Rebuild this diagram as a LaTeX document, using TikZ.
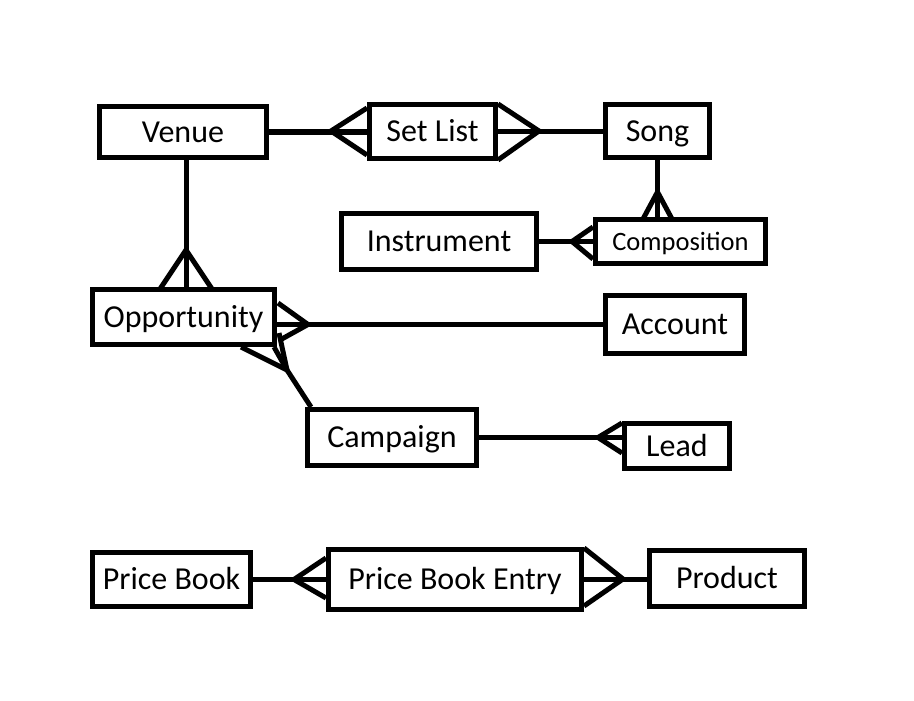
\documentclass[tikz,border=0pt]{standalone}
\usepackage{fontspec}
\setmainfont{Carlito}
\begin{document}
\begin{tikzpicture}[x=1pt,y=-1pt,
  ent/.style={draw, line width=5pt, inner sep=0pt, fill=white, text height=20.6pt, text depth=0pt, font=\fontsize{32}{38}\selectfont},
  sment/.style={ent, text height=17pt, font=\fontsize{26.5}{31}\selectfont},
  ln/.style={line width=5pt},
  crow/.style={line width=5pt, line join=miter}]
\useasboundingbox (0,0) rectangle (914,701);
\fill[white] (0,0) rectangle (914,701);

% entities
\node[ent, minimum width=167, minimum height=51] (venue) at (183,132) {Venue};
\node[ent, minimum width=126, minimum height=54] (setlist) at (432.5,131.5) {Set List};
\node[ent, minimum width=104, minimum height=53] (song) at (657.5,131) {Song};
\node[ent, minimum width=195, minimum height=56] (instrument) at (439,241.5) {Instrument};
\node[sment, minimum width=170, minimum height=44] (composition) at (680.5,241.5) {Composition};
\node[ent, minimum width=182, minimum height=55] (opportunity) at (183.5,317) {Opportunity};
\node[ent, minimum width=139, minimum height=58] (account) at (675,324.5) {Account};
\node[ent, minimum width=169, minimum height=56] (campaign) at (392,437.5) {Campaign};
\node[ent, minimum width=105, minimum height=45] (lead) at (677,446) {Lead};
\node[ent, minimum width=158, minimum height=54] (pricebook) at (171.5,579.5) {Price Book};
\node[ent, minimum width=253, minimum height=60] (pbe) at (455,579.5) {Price Book Entry};
\node[ent, minimum width=155, minimum height=56] (product) at (727,578.5) {Product};

% connectors
\draw[ln] (venue.east) -- (venue.east -| setlist.west);
\draw[crow] (367,108) -- (331,131) -- (367,155);

\draw[ln] (setlist.east) -- (setlist.east -| song.west);
\draw[crow] (498,104) -- (539,131) -- (498,160);

\draw[ln] (song.south) -- (song.south |- composition.north);
\draw[crow] (643,219) -- (657.5,192) -- (672,219);

\draw[ln] (instrument.east) -- (instrument.east -| composition.west);
\draw[crow] (593,227) -- (572,241.5) -- (593,259);

\draw[ln] ([xshift=3pt]venue.south) -- ([xshift=3pt]venue.south |- opportunity.north);
\draw[crow] (160,289) -- (186,250) -- (212,289);

\draw[ln] (account.west -| opportunity.east) -- (account.west);
\draw[crow] (278,303) -- (308,324.5) -- (280,340);

\coordinate (oc) at (287,370);
\draw[ln] ([xshift=6pt]campaign.north west) -- (oc);
\draw[crow] (241,347) -- (oc) -- (279,333);
\draw[crow] (oc) -- (274,347);

\draw[ln] (campaign.east) -- (campaign.east -| lead.west);
\draw[crow] (622,423) -- (598,437.5) -- (622,453);

\draw[ln] (pricebook.east) -- (pricebook.east -| pbe.west);
\draw[crow] (326,558) -- (294,579.5) -- (326,598);

\draw[ln] (pbe.east) -- (pbe.east -| product.west);
\draw[crow] (584,548) -- (623,579) -- (584,606);
\end{tikzpicture}
\end{document}
